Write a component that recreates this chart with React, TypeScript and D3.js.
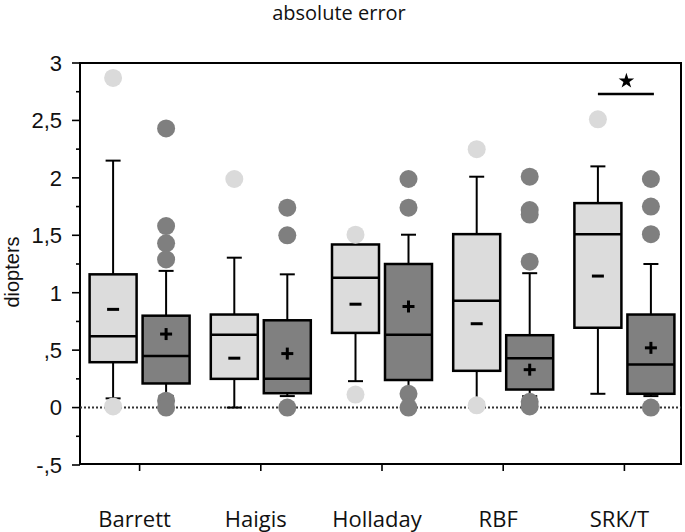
import React from "react";
import * as d3 from "d3";

const categories = ["Barrett", "Haigis", "Holladay", "RBF", "SRK/T"];
const series = ["light", "dark"];
const yTicks = [-0.5, 0, 0.5, 1, 1.5, 2, 2.5, 3];
const yTickLabels = ["-,5", "0", ",5", "1", "1,5", "2", "2,5", "3"];

// light series (first box in each pair)
const lightLow = [0.08, 0.0, 0.23, 0.05, 0.12];
const lightQ1 = [0.395, 0.25, 0.65, 0.32, 0.695];
const lightMed = [0.62, 0.635, 1.13, 0.93, 1.51];
const lightQ3 = [1.16, 0.81, 1.42, 1.51, 1.78];
const lightHigh = [2.15, 1.305, 1.42, 2.01, 2.1];
const lightMean = [0.855, 0.43, 0.9, 0.73, 1.145];
const lightOut = [[2.87, 0.01], [1.99], [1.505, 0.113], [2.25, 0.02], [2.51]];

// dark series (second box in each pair)
const darkLow = [0.1, 0.1, 0.15, 0.1, 0.1];
const darkQ1 = [0.21, 0.125, 0.24, 0.157, 0.12];
const darkMed = [0.45, 0.25, 0.635, 0.43, 0.375];
const darkQ3 = [0.8, 0.76, 1.25, 0.63, 0.81];
const darkHigh = [1.19, 1.16, 1.505, 1.17, 1.25];
const darkMean = [0.64, 0.47, 0.88, 0.33, 0.52];
const darkOut = [
  [2.43, 1.58, 1.43, 1.29, 0.06, 0.0],
  [1.74, 1.5, 0.0],
  [1.99, 1.74, 0.12, 0.0],
  [2.01, 1.72, 1.68, 1.27, 0.05, 0.01],
  [1.99, 1.75, 1.51, 0.0],
];

const sigValue = 2.73;

export default function App() {
  const W = 685, H = 532;
  const left = 80, right = 681, top = 63, bottom = 464;
  const y = d3.scaleLinear().domain([-0.5, 3]).range([465, 63]);
  const x = d3.scaleBand().domain(categories).range([79, 685]);
  const sub = d3.scalePoint().domain(series).range([-26.5, 26.5]);
  const bw = 47;
  const cap = 15;
  const minor = d3.range(-0.5, 3.001, 0.25);

  const data = series.map((s) => {
    const isL = s === "light";
    return categories.map((c, i) => ({
      c, s,
      low: isL ? lightLow[i] : darkLow[i],
      q1: isL ? lightQ1[i] : darkQ1[i],
      med: isL ? lightMed[i] : darkMed[i],
      q3: isL ? lightQ3[i] : darkQ3[i],
      high: isL ? lightHigh[i] : darkHigh[i],
      mean: isL ? lightMean[i] : darkMean[i],
      out: isL ? lightOut[i] : darkOut[i],
      fill: isL ? "#dcdcdc" : "#808080",
      ofill: isL ? "#dadada" : "#7f7f7f",
    }));
  }).flat();

  const cx = (d: any) => (x(d.c) as number) + x.bandwidth() / 2 + (sub(d.s) as number);
  const star = d3.symbol().type(d3.symbolStar).size(75)();
  const srk = data.filter((d) => d.c === "SRK/T");

  return (
    <svg width={W} height={H} style={{ position: "absolute", left: 0, top: 0, background: "#fff" }}>
      <text x={339} y={20} textAnchor="middle" fontFamily="'Open Sans'" fontSize={20} fill="#111">absolute error</text>
      <text transform={`translate(19,272) rotate(-90)`} textAnchor="middle" fontFamily="'Liberation Sans', Arial" fontSize={20} fill="#111">diopters</text>
      {/* y axis */}
      <line x1={left} x2={left} y1={top} y2={bottom} stroke="#000" strokeWidth={2} />
      {minor.map((v) => (
        <line key={"m" + v} x1={left - (Math.abs(v * 2 - Math.round(v * 2)) < 1e-6 ? 8 : 4)} x2={left} y1={y(v)} y2={y(v)} stroke="#000" strokeWidth={1.6} />
      ))}
      {yTicks.map((v, i) => (
        <text key={"t" + v} x={62} y={y(v)} dy="0.36em" textAnchor="end" fontFamily="'Liberation Sans', Arial" fontSize={22} fill="#111">{yTickLabels[i]}</text>
      ))}
      {/* frame */}
      <rect x={left} y={top} width={right - left} height={bottom - top} fill="none" stroke="#000" strokeWidth={2} />
      {/* zero line */}
      <line x1={left} x2={right} y1={y(0)} y2={y(0)} stroke="#333" strokeWidth={2} strokeDasharray="2,2" />
      {/* x ticks and labels */}
      {categories.map((c) => {
        const gx = (x(c) as number) + x.bandwidth() / 2;
        return (
          <g key={c}>
            <line x1={gx} x2={gx} y1={bottom} y2={bottom + 7} stroke="#000" strokeWidth={1.6} />
            <text x={gx - 5} y={527} textAnchor="middle" fontFamily="'Open Sans'" fontSize={22} fill="#111">{c}</text>
          </g>
        );
      })}
      {/* boxes */}
      {data.map((d) => {
        const X = cx(d);
        return (
          <g key={d.c + d.s}>
            {d.high > d.q3 && (
              <>
                <line x1={X} x2={X} y1={y(d.q3)} y2={y(d.high)} stroke="#000" strokeWidth={2} />
                <line x1={X - cap / 2} x2={X + cap / 2} y1={y(d.high)} y2={y(d.high)} stroke="#000" strokeWidth={2} />
              </>
            )}
            {d.low < d.q1 && (
              <>
                <line x1={X} x2={X} y1={y(d.q1)} y2={y(d.low)} stroke="#000" strokeWidth={2} />
                <line x1={X - cap / 2} x2={X + cap / 2} y1={y(d.low)} y2={y(d.low)} stroke="#000" strokeWidth={2} />
              </>
            )}
            <rect x={X - bw / 2} y={y(d.q3)} width={bw} height={y(d.q1) - y(d.q3)} fill={d.fill} stroke="#000" strokeWidth={2.5} />
            <line x1={X - bw / 2} x2={X + bw / 2} y1={y(d.med)} y2={y(d.med)} stroke="#000" strokeWidth={2.5} />
            <line x1={X - 6} x2={X + 6} y1={y(d.mean)} y2={y(d.mean)} stroke="#000" strokeWidth={3} />
            {d.s === "dark" && (
              <line x1={X} x2={X} y1={y(d.mean) - 6} y2={y(d.mean) + 6} stroke="#000" strokeWidth={3} />
            )}
          </g>
        );
      })}
      {/* outliers */}
      {data.map((d) => d.out.map((v: number, j: number) => (
        <circle key={d.c + d.s + j} cx={cx(d)} cy={y(v)} r={9} fill={d.ofill} />
      )))}
      {/* significance */}
      <line x1={cx(srk[0])} x2={cx(srk[1]) + 3} y1={y(sigValue)} y2={y(sigValue)} stroke="#000" strokeWidth={2.5} />
      <path d={star as string} transform={`translate(${(cx(srk[0]) + cx(srk[1])) / 2 + 2},${y(sigValue) - 13})`} fill="#000" />
    </svg>
  );
}
